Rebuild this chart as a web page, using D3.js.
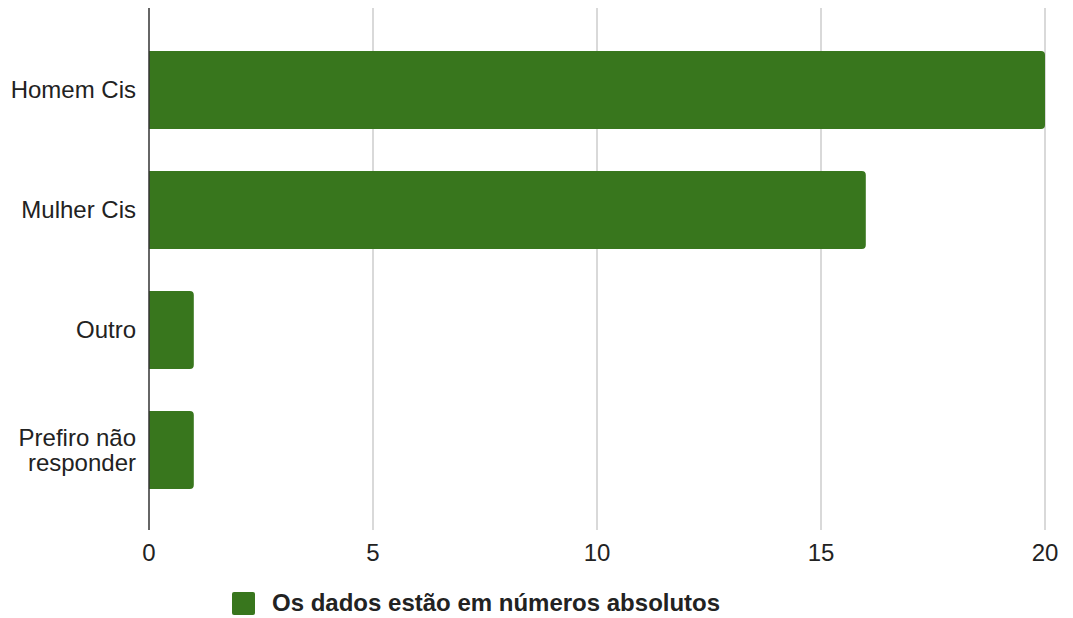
<!DOCTYPE html>
<html>
<head>
<meta charset="utf-8">
<script src="https://cdn.jsdelivr.net/npm/d3@7"></script>
<style>
  body { margin: 0; background: #fff; }
  text { font-family: "Liberation Sans", Arial, sans-serif; fill: #222; }
</style>
</head>
<body>
<svg id="chart" width="1073" height="618"></svg>
<script>
var categories = ["Homem Cis", "Mulher Cis", "Outro", "Prefiro não responder"];
var categoryLines = [["Homem Cis"], ["Mulher Cis"], ["Outro"], ["Prefiro não", "responder"]];
var values = [20, 16, 1, 1];
var xTicks = [0, 5, 10, 15, 20];
var seriesName = "Os dados estão em números absolutos";

(function() {
  var svg = d3.select("#chart"),
    plotLeft = 149, plotRight = 1045, plotTop = 8, plotBottom = 530,
    green = "#38761d";

  var x = d3.scaleLinear().domain([0, 20]).range([plotLeft, plotRight]);
  var y = d3.scaleBand().domain(categories).range([plotTop + 1, plotBottom + 1])
    .paddingInner(0.35).paddingOuter(0.35);

  // gridlines
  svg.append("g").selectAll("line")
    .data(xTicks.slice(1))
    .enter().append("line")
    .attr("x1", function(d) { return x(d); })
    .attr("x2", function(d) { return x(d); })
    .attr("y1", plotTop).attr("y2", plotBottom)
    .attr("stroke", "#cccccc").attr("stroke-width", 1.5);

  // bars with rounded right end
  var r = 4;
  svg.append("g").selectAll("path")
    .data(categories)
    .enter().append("path")
    .attr("fill", green)
    .attr("d", function(d, i) {
      var x0 = x(0), x1 = x(values[i]), y0 = y(d), h = y.bandwidth();
      return "M" + x0 + "," + y0 +
        "H" + (x1 - r) +
        "Q" + x1 + "," + y0 + " " + x1 + "," + (y0 + r) +
        "V" + (y0 + h - r) +
        "Q" + x1 + "," + (y0 + h) + " " + (x1 - r) + "," + (y0 + h) +
        "H" + x0 + "Z";
    });

  // zero axis line
  svg.append("line")
    .attr("x1", x(0)).attr("x2", x(0))
    .attr("y1", plotTop).attr("y2", plotBottom)
    .attr("stroke", "#333").attr("stroke-width", 1.5);

  // x tick labels
  svg.append("g").selectAll("text")
    .data(xTicks)
    .enter().append("text")
    .attr("x", function(d) { return x(d); })
    .attr("y", 561)
    .attr("text-anchor", "middle")
    .style("font-size", "24px")
    .text(function(d) { return d; });

  // y labels
  var lineH = 25;
  var yl = svg.append("g").selectAll("text")
    .data(categories)
    .enter().append("text")
    .attr("text-anchor", "end")
    .style("font-size", "24px")
    .attr("y", function(d, i) {
      var n = categoryLines[i].length;
      return y(d) + y.bandwidth() / 2 + 8 - (n - 1) * lineH / 2;
    });
  yl.each(function(d, i) {
    d3.select(this).selectAll("tspan")
      .data(categoryLines[i])
      .enter().append("tspan")
      .attr("x", 136)
      .attr("dy", function(t, j) { return j === 0 ? 0 : lineH; })
      .text(function(t) { return t; });
  });

  // legend
  svg.append("rect")
    .attr("x", 232).attr("y", 592).attr("width", 23).attr("height", 23)
    .attr("rx", 2).attr("fill", green);
  svg.append("text")
    .attr("x", 272).attr("y", 611)
    .style("font-size", "24px").style("font-weight", "bold")
    .text(seriesName);
})();
</script>
</body>
</html>
